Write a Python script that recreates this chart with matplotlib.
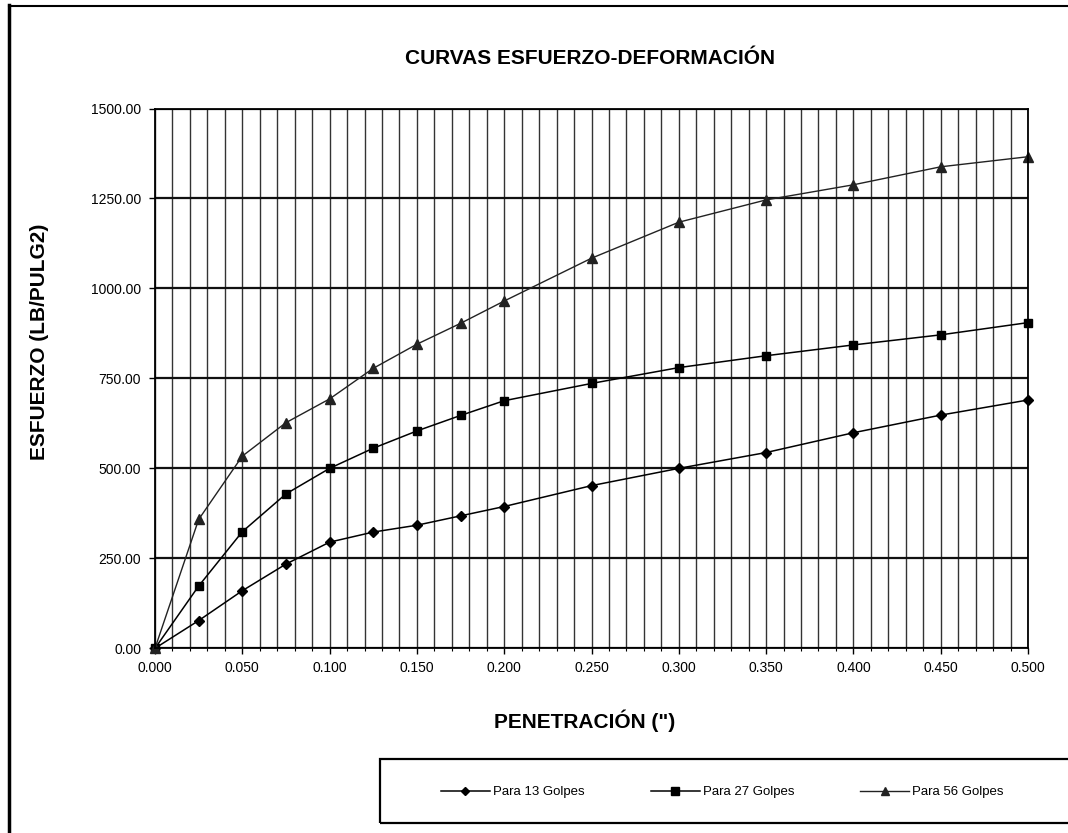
import matplotlib
matplotlib.use('Agg')
import matplotlib.pyplot as plt
from matplotlib.ticker import MultipleLocator, FormatStrFormatter
from matplotlib.lines import Line2D
from matplotlib.patches import Rectangle

plt.rcParams['font.family'] = ['Liberation Sans', 'DejaVu Sans']

# ---- data ----
penetracion = [0.0, 0.025, 0.05, 0.075, 0.1, 0.125, 0.15, 0.175, 0.2,
               0.25, 0.3, 0.35, 0.4, 0.45, 0.5]
golpes_13 = [0, 77, 160, 234, 295, 323, 342, 368, 394, 452, 500, 544, 599, 648, 690]
golpes_27 = [0, 173, 324, 429, 500, 556, 604, 647, 688, 736, 780, 813, 843, 871, 905]
golpes_56 = [0, 358, 534, 627, 693, 778, 845, 903, 965, 1084, 1184, 1246, 1288, 1338, 1366]
series_labels = ['Para 13 Golpes', 'Para 27 Golpes', 'Para 56 Golpes']
title = 'CURVAS ESFUERZO-DEFORMACIÓN'
xlabel = 'PENETRACIÓN (")'
ylabel = 'ESFUERZO (LB/PULG2)'

W, H = 1068, 833
fig = plt.figure(figsize=(W / 100, H / 100), dpi=100)
fig.patch.set_facecolor('white')

left, right, top, bottom = 155, 1028, 108.5, 648.3
ax = fig.add_axes([left / W, 1 - bottom / H, (right - left) / W, (bottom - top) / H])

ax.set_xlim(0, 0.5)
ax.set_ylim(0, 1500)
ax.xaxis.set_major_locator(MultipleLocator(0.05))
ax.xaxis.set_minor_locator(MultipleLocator(0.01))
ax.yaxis.set_major_locator(MultipleLocator(250))
ax.xaxis.set_major_formatter(FormatStrFormatter('%.3f'))
ax.yaxis.set_major_formatter(FormatStrFormatter('%.2f'))

ax.set_axisbelow(True)
ax.grid(which='major', axis='y', color='#111111', lw=1.6)
ax.grid(which='both', axis='x', color='#333333', lw=1.0)

ax.tick_params(axis='both', which='major', labelsize=10, direction='out',
               length=4, width=1, colors='black')
ax.tick_params(axis='y', pad=6)
ax.tick_params(axis='x', pad=5)
ax.tick_params(axis='x', which='minor', length=2, width=0.8)
for sp in ax.spines.values():
    sp.set_color('black')
    sp.set_linewidth(1.3)

l1, = ax.plot(penetracion, golpes_13, color='black', lw=1.1, marker='D', markersize=5,
              label=series_labels[0])
l2, = ax.plot(penetracion, golpes_27, color='black', lw=1.1, marker='s', markersize=6,
              label=series_labels[1])
l3, = ax.plot(penetracion, golpes_56, color='#222222', lw=1.0, marker='^', markersize=6.5,
              label=series_labels[2])
for ln in (l1, l2, l3):
    ln.set_clip_on(False)

fig.text(590 / W, 1 - 59 / H, title, ha='center', va='center', fontsize=15,
         fontweight='bold')
fig.text(40 / W, 1 - 342 / H, ylabel, ha='center', va='center', rotation=90,
         fontsize=15, fontweight='bold')
fig.text(585 / W, 1 - 721 / H, xlabel, ha='center', va='center', fontsize=15,
         fontweight='bold')

# legend box
fig.add_artist(Rectangle((380 / W, 1 - 823 / H), (1075 - 380) / W, 64 / H,
                         transform=fig.transFigure, fill=False, ec='black', lw=1.6))
fig.legend(handles=[l1, l2, l3], loc='center left',
           bbox_to_anchor=(441 / W, 1 - 792 / H), ncol=3, frameon=False,
           fontsize=9.5, handlelength=3.7, handletextpad=0.25, columnspacing=5.0,
           borderpad=0, borderaxespad=0, numpoints=1, markerscale=0.85)

# outer frame of scanned sheet
fig.add_artist(Line2D([9 / W, 9 / W], [0, 1 - 5 / H], transform=fig.transFigure,
                      color='black', lw=2.5))
fig.add_artist(Line2D([9 / W, 1], [1 - 6 / H, 1 - 6 / H], transform=fig.transFigure,
                      color='black', lw=1.5))

fig.savefig('out.png', dpi=100)
